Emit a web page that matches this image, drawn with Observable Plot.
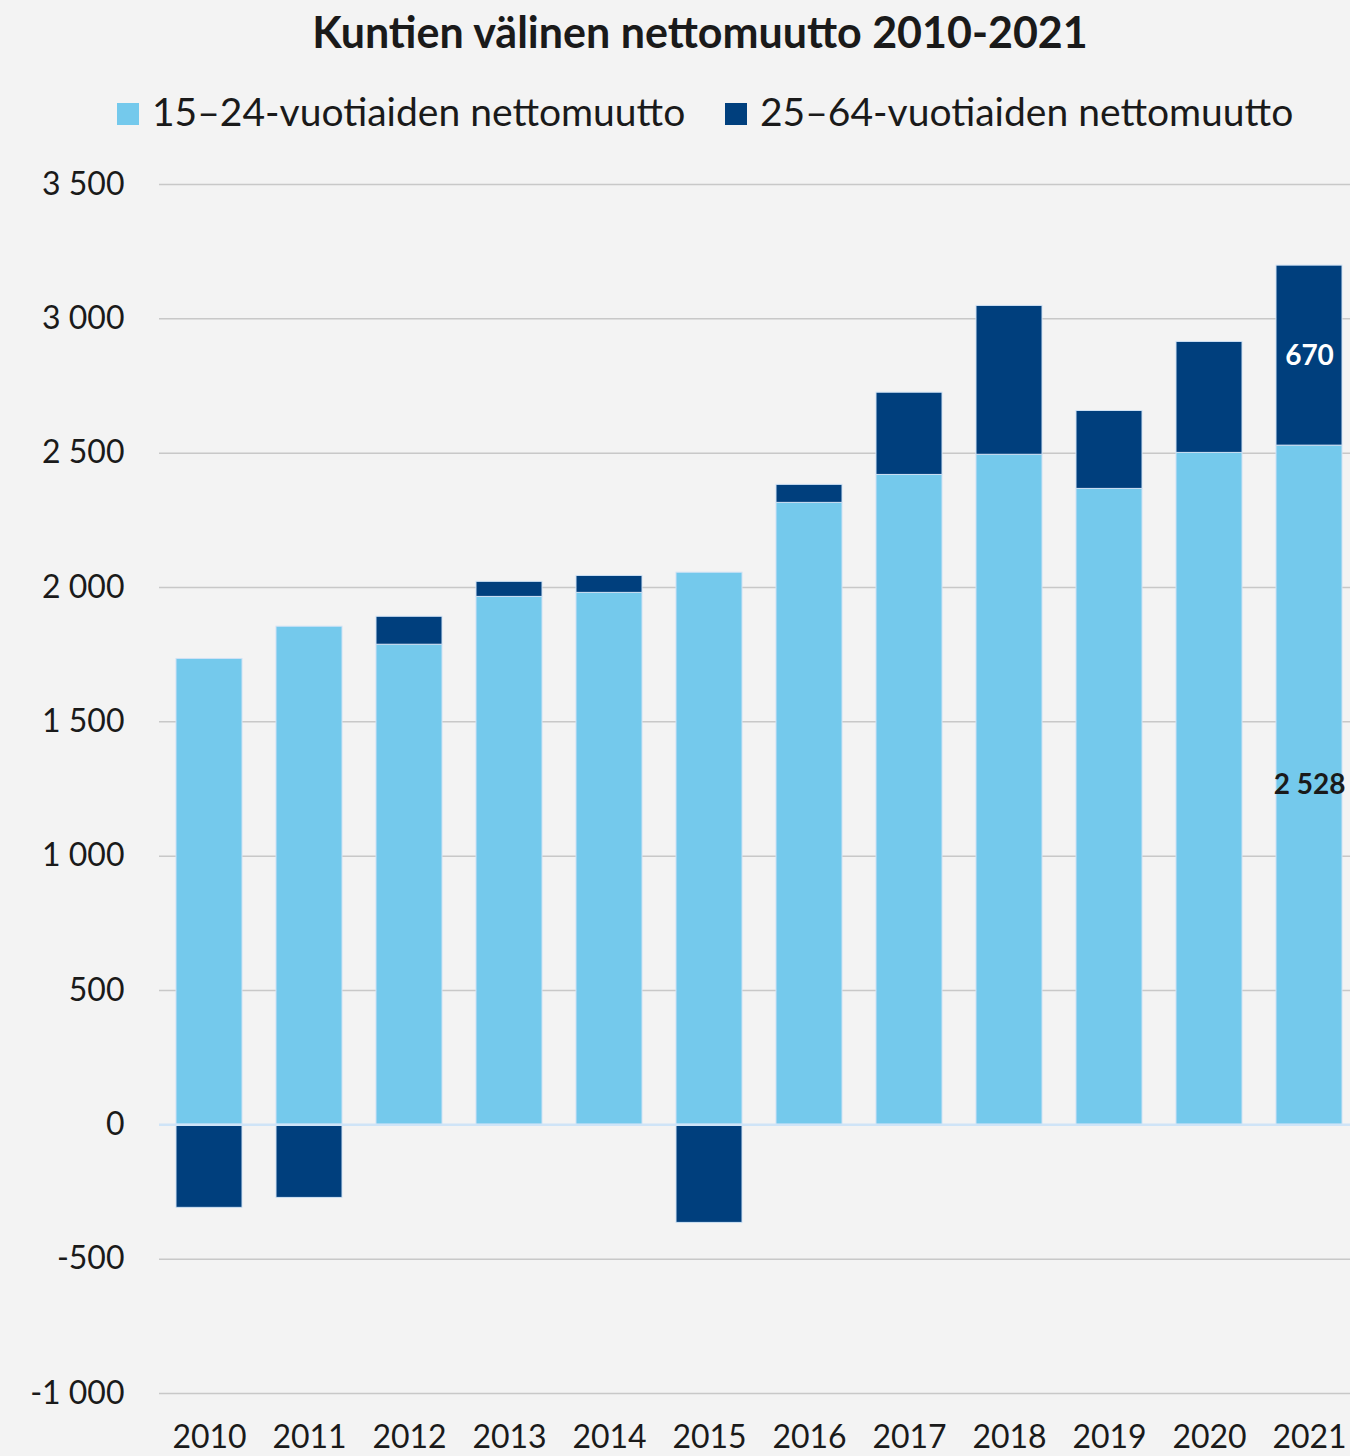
<!DOCTYPE html>
<html>
<head>
<meta charset="utf-8">
<script src="https://cdn.jsdelivr.net/npm/d3@7"></script>
<script src="https://cdn.jsdelivr.net/npm/@observablehq/plot@0.6"></script>
<style>
  html, body { margin: 0; padding: 0; background: #f3f3f3; }
  #wrap { position: relative; width: 1350px; height: 1456px; background: #f3f3f3; overflow: hidden; font-family: Lato, "Noto Sans", sans-serif; color: #1a1a1a; }
  #title { position: absolute; left: 700px; top: 10px; transform: translateX(-50%); white-space: nowrap; font-size: 43px; font-weight: bold; line-height: 1; }
  .leg { position: absolute; top: 92px; white-space: nowrap; font-size: 39px; line-height: 1; }
  .sw { position: absolute; width: 22px; height: 22px; top: 103px; }
  #chart { position: absolute; left: 0; top: 150px; }
</style>
</head>
<body>
<div id="wrap">
  <div id="title"></div>
  <div id="legend"></div>
  <div id="chart"></div>
</div>
<script>
const titleText = "Kuntien välinen nettomuutto 2010-2021";
const years = ["2010","2011","2012","2013","2014","2015","2016","2017","2018","2019","2020","2021"];
const youth = [1734, 1854, 1787, 1965, 1980, 2055, 2315, 2419, 2494, 2367, 2501, 2528];
const adult = [-309, -272, 104, 56, 63, -365, 67, 306, 554, 290, 413, 670];
const seriesNames = ["15–24-vuotiaiden nettomuutto", "25–64-vuotiaiden nettomuutto"];
const seriesColors = ["#74c9ec", "#003f7d"];
const yTicks = [-1000, -500, 0, 500, 1000, 1500, 2000, 2500, 3000, 3500];
const labelYear = "2021";

const fmt = d => (d < 0 ? "-" : "") + d3.format(",")(Math.abs(d)).replace(/,/g, " ");

document.getElementById("title").textContent = titleText;
const legend = document.getElementById("legend");
const legX = [117, 725];
seriesNames.forEach((name, i) => {
  const sw = document.createElement("div");
  sw.className = "sw";
  sw.style.left = legX[i] + "px";
  sw.style.background = seriesColors[i];
  legend.appendChild(sw);
  const t = document.createElement("div");
  t.className = "leg";
  t.style.left = (legX[i] + 35) + "px";
  t.textContent = name;
  legend.appendChild(t);
});

const data = years.flatMap((year, i) => [
  {year, series: seriesNames[0], value: youth[i]},
  {year, series: seriesNames[1], value: adult[i]}
]);
const labelData = data.filter(d => d.year === labelYear);

const chart = Plot.plot({
  width: 1350,
  height: 1306,
  marginLeft: 159,
  marginRight: 0,
  marginTop: 34,
  marginBottom: 63,
  style: {background: "transparent", fontFamily: "Lato, 'Noto Sans', sans-serif", fontSize: "32px", color: "#1a1a1a"},
  x: {domain: years, range: [159, 1359], paddingInner: 0.34, paddingOuter: 0.17, label: null, tickSize: 0, tickPadding: 32},
  y: {domain: [-1000, 3500], ticks: yTicks, tickFormat: fmt, label: null, tickSize: 0, tickPadding: 35},
  color: {domain: seriesNames, range: seriesColors},
  marks: [
    Plot.ruleY(yTicks.filter(d => d !== 0), {stroke: "#c8c8c8", strokeWidth: 1.5}),
    Plot.barY(data, {x: "year", y: "value", fill: "series", z: "series", stroke: "#cfe2f5", strokeWidth: 1}),
    Plot.ruleY([0], {stroke: "#cfe4f7", strokeWidth: 2.5}),
    Plot.text(labelData, Plot.stackY({x: "year", y: "value", z: "series",
      text: d => d.series === seriesNames[1] ? fmt(d.value) : null,
      fill: "white", fontWeight: "bold", fontSize: 28})),
    Plot.text(labelData, Plot.stackY({x: "year", y: "value", z: "series",
      text: d => d.series === seriesNames[0] ? fmt(d.value) : null,
      fill: "#1a1a1a", fontWeight: "bold", fontSize: 28}))
  ]
});
document.getElementById("chart").appendChild(chart);
</script>
</body>
</html>
